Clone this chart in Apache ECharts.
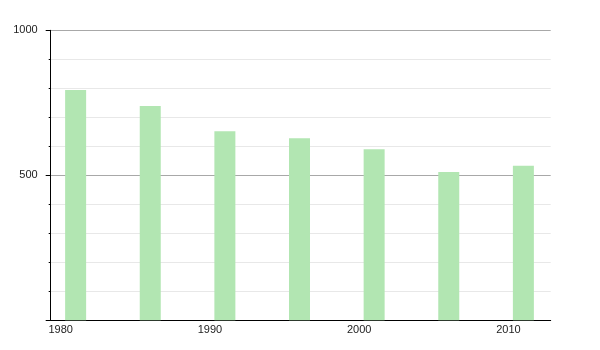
<!DOCTYPE html>
<html>
<head>
<meta charset="utf-8">
<script src="https://cdn.jsdelivr.net/npm/echarts@6/dist/echarts.min.js"></script>
<style>
html,body{margin:0;padding:0;background:#fff;}
#chart{width:600px;height:350px;}
</style>
</head>
<body>
<div id="chart"></div>
<script>
const years = [1981, 1986, 1991, 1996, 2001, 2006, 2011];
const population = [794, 739, 652, 628, 590, 511, 533];
const xTickLabels = [1980, 1990, 2000, 2010];
const yTickLabels = [500, 1000];

const chart = echarts.init(document.getElementById('chart'), null, {renderer: 'canvas'});
const font = '"Liberation Sans", Arial, sans-serif';
chart.setOption({
  animation: false,
  grid: {left: 50.7, right: 49.3, top: 30.3, bottom: 29.7},
  xAxis: {
    type: 'value',
    min: 1979.33,
    max: 2012.83,
    axisLine: {show: true, lineStyle: {color: '#000', width: 1}},
    axisTick: {show: false},
    splitLine: {show: false},
    axisLabel: {
      customValues: xTickLabels,
      formatter: v => String(v),
      color: '#222', fontSize: 11, fontFamily: font, margin: 4
    }
  },
  yAxis: {
    type: 'value',
    min: 0,
    max: 1000,
    interval: 500,
    axisLine: {show: true, lineStyle: {color: '#000', width: 1}},
    axisTick: {show: true, length: 5, lineStyle: {color: '#000'}},
    minorTick: {show: true, splitNumber: 5, length: 2, lineStyle: {color: '#000'}},
    splitLine: {show: true, lineStyle: {color: '#a8a8a8', width: 1}},
    minorSplitLine: {show: true, lineStyle: {color: '#e8e8e8', width: 1}},
    axisLabel: {
      formatter: v => (yTickLabels.indexOf(v) >= 0 ? String(v) : ''),
      color: '#222', fontSize: 11, fontFamily: font, margin: 13
    }
  },
  series: [{
    type: 'bar',
    data: years.map((y, i) => [y, population[i]]),
    barWidth: 21,
    itemStyle: {color: '#b2e6b2'},
    z: 3
  }]
});
</script>
</body>
</html>
